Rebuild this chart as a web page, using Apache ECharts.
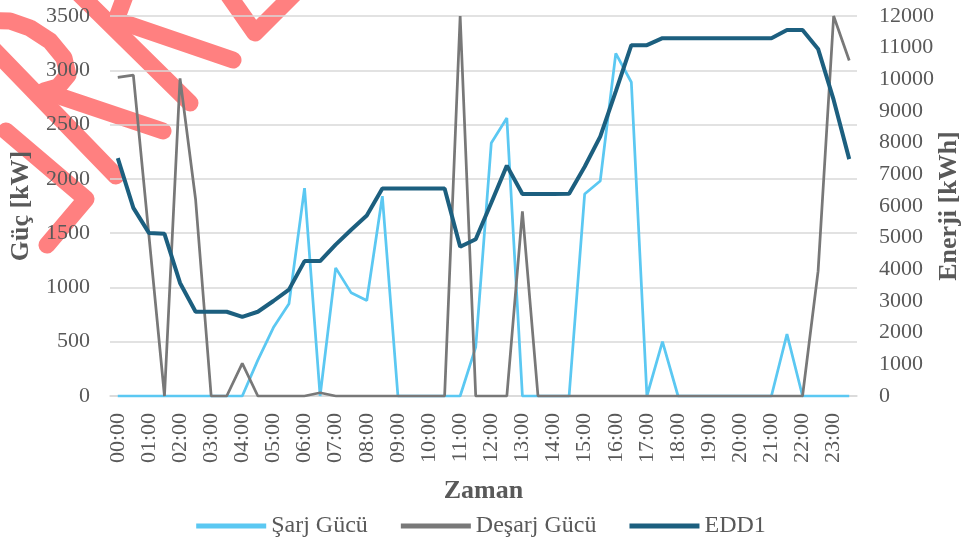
<!DOCTYPE html>
<html>
<head>
<meta charset="utf-8">
<script src="https://cdn.jsdelivr.net/npm/echarts@6/dist/echarts.min.js"></script>
<style>
	html, body { margin: 0; padding: 0; background: #fff; }
	#chart { width: 962px; height: 547px; }
</style>
</head>
<body>
<div id="chart"></div>
<script>
// saatler (yarım saatlik)
var zaman = [];
for (var h = 0; h < 24; h++) {
	var hh = (h < 10 ? '0' : '') + h;
	zaman.push(hh + ':00', hh + ':30');
}

// Şarj Gücü [kW]
var sarjGucu = [0, 0, 0, 0, 0, 0, 0, 0, 0, 330, 630, 850, 1915, 0, 1180, 950,
	880, 1840, 0, 0, 0, 0, 0, 450, 2330, 2560, 0, 0, 0, 0, 1860, 1980,
	3155, 2890, 0, 500, 0, 0, 0, 0, 0, 0, 0, 570, 0, 0, 0, 0];

// Deşarj Gücü [kW]
var desarjGucu = [2935, 2955, 1480, 0, 2925, 1810, 0, 0, 300, 0, 0, 0, 0, 30, 0, 0,
	0, 0, 0, 0, 0, 0, 3500, 0, 0, 0, 1700, 0, 0, 0, 0, 0,
	0, 0, 0, 0, 0, 0, 0, 0, 0, 0, 0, 0, 0, 1150, 3500, 3090];

// EDD1 [kWh]
var edd1 = [7510, 5940, 5150, 5120, 3570, 2660, 2660, 2660, 2500, 2660, 3000, 3360, 4260, 4260, 4780, 5250,
	5700, 6550, 6550, 6550, 6550, 6550, 4715, 4950, 6100, 7275, 6380, 6380, 6380, 6390, 7240, 8190,
	9620, 11080, 11080, 11300, 11300, 11300, 11300, 11300, 11300, 11300, 11300, 11560, 11560, 10960, 9350, 7480];

// sol üstteki filigran (harf çizgileri, piksel)
var damga = [
	[[6, 131], [86, 199], [47, 245]],
	[[-40, 15], [116, 176]],
	[[-18, 20], [10, 21], [30, 28], [50, 41], [64, 58], [68, 75], [58, 87], [44, 91], [163, 131]],
	[[60, -25], [190, 103]],
	[[128, -12], [116, 20], [233, 60]],
	[[222, -14], [255, 33], [302, -14]]
];

var yazi = 'Liberation Serif';
var gri = '#595959';

var myChart = echarts.init(document.getElementById('chart'));

var option = {
	backgroundColor : '#ffffff',
	animation : false,
	textStyle : {
		fontFamily : yazi
	},
	graphic : damga.map(function(p) {
		return {
			type : 'polyline',
			z : -10,
			silent : true,
			shape : { points : p },
			style : {
				stroke : '#ff8080',
				lineWidth : 17,
				lineCap : 'round',
				lineJoin : 'round',
				fill : null
			}
		};
	}),
	grid : {
		left : 110,
		right : 105,
		top : 16,
		bottom : 151,
		outerBoundsMode : 'none',
		containLabel : false
	},
	legend : {
		bottom : 4,
		left : 'center',
		icon : 'rect',
		itemWidth : 70,
		itemHeight : 5,
		itemGap : 33,
		textStyle : {
			fontFamily : yazi,
			fontSize : 24,
			color : gri
		},
		data : ['Şarj Gücü', 'Deşarj Gücü', 'EDD1']
	},
	xAxis : [{
		type : 'category',
		data : zaman,
		boundaryGap : true,
		name : 'Zaman',
		nameLocation : 'middle',
		nameGap : 82,
		nameTextStyle : {
			fontFamily : yazi,
			fontSize : 26,
			fontWeight : 'bold',
			color : gri
		},
		axisLine : {
			show : true,
			lineStyle : { color : '#d9d9d9', width : 1.5 }
		},
		axisTick : { show : false },
		axisLabel : {
			interval : 1,
			rotate : 90,
			margin : 17,
			fontFamily : yazi,
			fontSize : 22,
			color : gri
		},
		splitLine : { show : false }
	}],
	yAxis : [{
		type : 'value',
		min : 0,
		max : 3500,
		interval : 500,
		name : 'Güç [kW]',
		nameLocation : 'middle',
		nameRotate : 90,
		nameGap : 76,
		nameMoveOverlap : false,
		nameTextStyle : {
			fontFamily : yazi,
			fontSize : 26,
			fontWeight : 'bold',
			color : gri
		},
		axisLine : { show : false },
		axisTick : { show : false },
		axisLabel : {
			margin : 20,
			fontFamily : yazi,
			fontSize : 22,
			color : gri,
			formatter : function(v) { return String(v); }
		},
		splitLine : {
			show : true,
			lineStyle : { color : '#d9d9d9', width : 1.5 }
		}
	}, {
		type : 'value',
		min : 0,
		max : 12000,
		interval : 1000,
		position : 'right',
		name : 'Enerji [kWh]',
		nameLocation : 'middle',
		nameRotate : 90,
		nameGap : 79,
		nameMoveOverlap : false,
		nameTextStyle : {
			fontFamily : yazi,
			fontSize : 26,
			fontWeight : 'bold',
			color : gri
		},
		axisLine : { show : false },
		axisTick : { show : false },
		axisLabel : {
			margin : 22,
			fontFamily : yazi,
			fontSize : 22,
			color : gri,
			formatter : function(v) { return String(v); }
		},
		splitLine : { show : false }
	}],
	series : [{
		name : 'Şarj Gücü',
		type : 'line',
		data : sarjGucu,
		yAxisIndex : 0,
		showSymbol : false,
		symbol : 'none',
		color : '#5bc8f2',
		lineStyle : { color : '#5bc8f2', width : 2.75 },
		z : 3
	}, {
		name : 'Deşarj Gücü',
		type : 'line',
		data : desarjGucu,
		yAxisIndex : 0,
		showSymbol : false,
		symbol : 'none',
		color : '#787878',
		lineStyle : { color : '#787878', width : 2.75 },
		z : 4
	}, {
		name : 'EDD1',
		type : 'line',
		data : edd1,
		yAxisIndex : 1,
		showSymbol : false,
		symbol : 'none',
		color : '#1c5f7f',
		lineStyle : { color : '#1c5f7f', width : 4 },
		z : 5
	}]
};

myChart.setOption(option);
</script>
</body>
</html>
